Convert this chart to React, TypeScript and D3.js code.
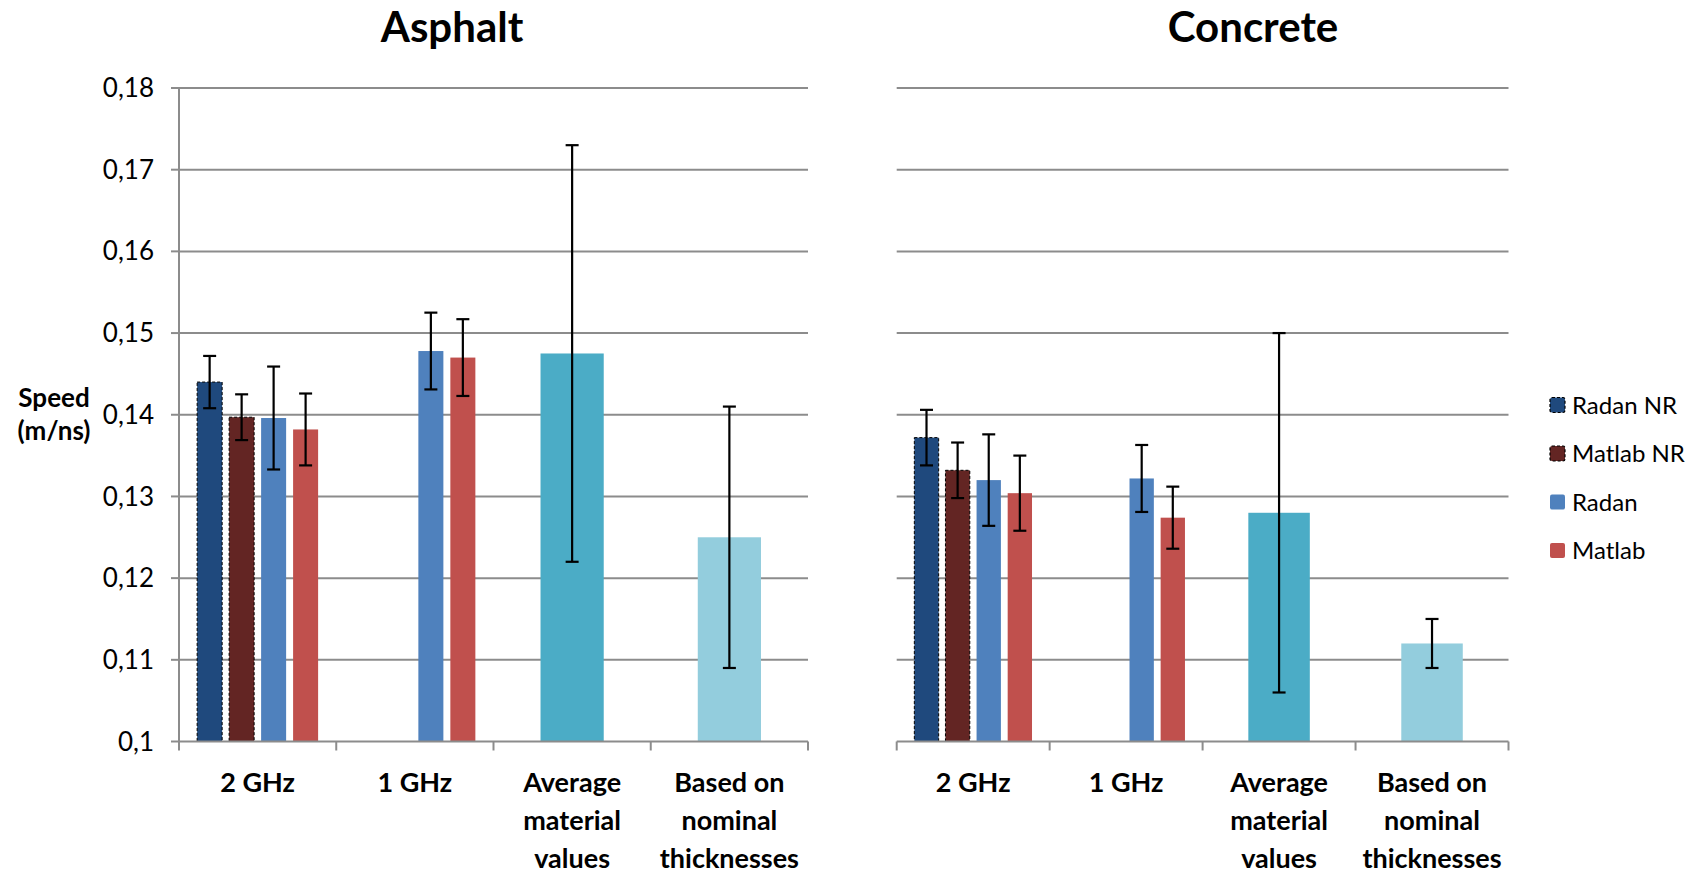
import React from "react";
import * as d3 from "d3";

const categories = ["2 GHz", "1 GHz", "Average material values", "Based on nominal thicknesses"];
const categoryLines = [["2 GHz"], ["1 GHz"], ["Average", "material", "values"], ["Based on", "nominal", "thicknesses"]];
const seriesNames = ["Radan NR", "Matlab NR", "Radan", "Matlab"];
const seriesColors = ["#1F497D", "#632523", "#4F81BD", "#C0504D"];
const seriesDashed = [true, true, false, false];
const referenceColors = [null, null, "#4BACC6", "#93CDDD"];
const yTicks = [0.1, 0.11, 0.12, 0.13, 0.14, 0.15, 0.16, 0.17, 0.18];

// Asphalt
const asphaltRadanNR = [0.144, null, null, null];
const asphaltRadanNRErr = [0.0032, null, null, null];
const asphaltMatlabNR = [0.1397, null, null, null];
const asphaltMatlabNRErr = [0.0028, null, null, null];
const asphaltRadan = [0.1396, 0.1478, null, null];
const asphaltRadanErr = [0.0063, 0.0047, null, null];
const asphaltMatlab = [0.1382, 0.147, null, null];
const asphaltMatlabErr = [0.0044, 0.0047, null, null];
const asphaltReference = [null, null, 0.1475, 0.125];
const asphaltReferenceErr = [null, null, 0.0255, 0.016];

// Concrete
const concreteRadanNR = [0.1372, null, null, null];
const concreteRadanNRErr = [0.0034, null, null, null];
const concreteMatlabNR = [0.1332, null, null, null];
const concreteMatlabNRErr = [0.0034, null, null, null];
const concreteRadan = [0.132, 0.1322, null, null];
const concreteRadanErr = [0.0056, 0.0041, null, null];
const concreteMatlab = [0.1304, 0.1274, null, null];
const concreteMatlabErr = [0.0046, 0.0038, null, null];
const concreteReference = [null, null, 0.128, 0.112];
const concreteReferenceErr = [null, null, 0.022, 0.003];

const FONT = "Lato, 'Open Sans', sans-serif";
const GRID = "#8C8C8C";

type PanelProps = {
  title: string;
  titleX: number;
  x0: number;
  x1: number;
  showYAxis: boolean;
  series: (number | null)[][];
  errors: (number | null)[][];
  reference: (number | null)[];
  referenceErr: (number | null)[];
};

const Y_TOP = 88;
const Y_BOTTOM = 741.5;

function Panel(p: PanelProps) {
  const y = d3.scaleLinear().domain([0.1, 0.18]).range([Y_BOTTOM, Y_TOP]);
  const x = d3.scaleBand<string>().domain(categories).range([p.x0, p.x1]).paddingInner(0).paddingOuter(0);
  const cat = x.bandwidth();
  const slot = d3.scaleBand<string>().domain(seriesNames).range([0, cat]).paddingInner(0.218).paddingOuter(0.567);
  const fmt = (v: number) => d3.format(".2~f")(v).replace(".", ",");
  const capW = 13;

  const errBar = (cx: number, v: number, e: number, key: string) => (
    <g key={key} stroke="#000" strokeWidth={2.2}>
      <line x1={cx} x2={cx} y1={y(v + e)} y2={y(v - e)} />
      <line x1={cx - capW / 2} x2={cx + capW / 2} y1={y(v + e)} y2={y(v + e)} />
      <line x1={cx - capW / 2} x2={cx + capW / 2} y1={y(v - e)} y2={y(v - e)} />
    </g>
  );

  return (
    <g>
      <text x={p.titleX} y={42} textAnchor="middle" fontFamily={FONT} fontWeight="bold" fontSize={42} fill="#000">
        {p.title}
      </text>
      {yTicks.slice(1).map((t) => (
        <line key={"g" + t} x1={p.x0} x2={p.x1} y1={y(t)} y2={y(t)} stroke={GRID} strokeWidth={2} />
      ))}
      {p.showYAxis && (
        <g>
          <line x1={p.x0} x2={p.x0} y1={Y_TOP} y2={Y_BOTTOM} stroke={GRID} strokeWidth={2} />
          {yTicks.map((t) => (
            <g key={"t" + t}>
              <line x1={p.x0 - 8} x2={p.x0} y1={y(t)} y2={y(t)} stroke={GRID} strokeWidth={2} />
              <text x={154} y={y(t)} dy="0.35em" textAnchor="end" fontFamily={FONT} fontSize={26} fill="#000">
                {fmt(t)}
              </text>
            </g>
          ))}
        </g>
      )}
      {p.series.map((vals, si) =>
        vals.map((v, ci) => {
          if (v == null) return null;
          const bx = (x(categories[ci]) as number) + (slot(seriesNames[si]) as number);
          return (
            <rect
              key={`b${si}-${ci}`}
              x={bx}
              y={y(v)}
              width={slot.bandwidth()}
              height={y(0.1) - y(v)}
              fill={seriesColors[si]}
              stroke={seriesDashed[si] ? "#000" : "none"}
              strokeWidth={1}
              strokeDasharray={seriesDashed[si] ? "3,2" : undefined}
            />
          );
        })
      )}
      {p.reference.map((v, ci) => {
        if (v == null) return null;
        const w = cat * 0.402;
        const cx = (x(categories[ci]) as number) + cat / 2;
        return <rect key={"r" + ci} x={cx - w / 2} y={y(v)} width={w} height={y(0.1) - y(v)} fill={referenceColors[ci] as string} />;
      })}
      <line x1={p.x0} x2={p.x1} y1={Y_BOTTOM} y2={Y_BOTTOM} stroke={GRID} strokeWidth={2} />
      {[...categories.map((c) => x(c) as number), p.x1].map((tx, i) => (
        <line key={"xt" + i} x1={tx} x2={tx} y1={Y_BOTTOM} y2={Y_BOTTOM + 9} stroke={GRID} strokeWidth={2} />
      ))}
      {p.series.map((vals, si) =>
        vals.map((v, ci) => {
          const e = p.errors[si][ci];
          if (v == null || e == null) return null;
          const cx = (x(categories[ci]) as number) + (slot(seriesNames[si]) as number) + slot.bandwidth() / 2;
          return errBar(cx, v, e, `e${si}-${ci}`);
        })
      )}
      {p.reference.map((v, ci) => {
        const e = p.referenceErr[ci];
        if (v == null || e == null) return null;
        const cx = (x(categories[ci]) as number) + cat / 2;
        return errBar(cx, v, e, "re" + ci);
      })}
      {categoryLines.map((lines, ci) => (
        <text key={"xl" + ci} textAnchor="middle" fontFamily={FONT} fontWeight="bold" fontSize={27} fill="#000">
          {lines.map((l, li) => (
            <tspan key={li} x={(x(categories[ci]) as number) + cat / 2} y={792 + li * 38}>
              {l}
            </tspan>
          ))}
        </text>
      ))}
    </g>
  );
}

export default function App() {
  return (
    <svg
      width={1702}
      height={875}
      style={{ position: "absolute", left: 0, top: 0, display: "block", background: "#fff" }}
    >
      <rect x={0} y={0} width={1702} height={875} fill="#fff" />
      <Panel
        title="Asphalt"
        titleX={452}
        x0={179}
        x1={808}
        showYAxis={true}
        series={[asphaltRadanNR, asphaltMatlabNR, asphaltRadan, asphaltMatlab]}
        errors={[asphaltRadanNRErr, asphaltMatlabNRErr, asphaltRadanErr, asphaltMatlabErr]}
        reference={asphaltReference}
        referenceErr={asphaltReferenceErr}
      />
      <Panel
        title="Concrete"
        titleX={1253}
        x0={896.7}
        x1={1508.5}
        showYAxis={false}
        series={[concreteRadanNR, concreteMatlabNR, concreteRadan, concreteMatlab]}
        errors={[concreteRadanNRErr, concreteMatlabNRErr, concreteRadanErr, concreteMatlabErr]}
        reference={concreteReference}
        referenceErr={concreteReferenceErr}
      />
      <text textAnchor="middle" fontFamily={FONT} fontWeight="bold" fontSize={26} fill="#000">
        <tspan x={54} y={407}>Speed</tspan>
        <tspan x={54} y={440}>(m/ns)</tspan>
      </text>
      {seriesNames.map((n, i) => {
        const cy = 405 + i * 48.5;
        return (
          <g key={"lg" + i}>
            <rect
              x={1550}
              y={cy - 7.5}
              width={15}
              height={15}
              rx={2}
              fill={seriesColors[i]}
              stroke={seriesDashed[i] ? "#000" : "none"}
              strokeWidth={1.2}
              strokeDasharray={seriesDashed[i] ? "3,2" : undefined}
            />
            <text x={1572} y={cy} dy="0.36em" fontFamily={FONT} fontSize={24} fill="#000">
              {n}
            </text>
          </g>
        );
      })}
    </svg>
  );
}
